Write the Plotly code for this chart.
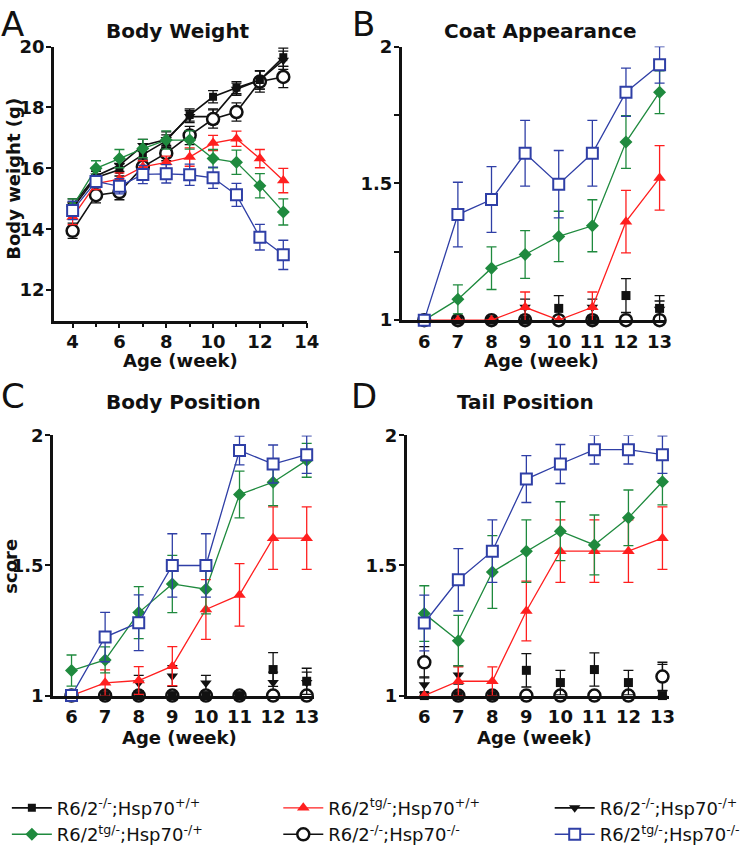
import plotly.graph_objects as go

W, H = 745, 853

# ---------------- data ----------------
weeks_a = [4, 5, 6, 7, 8, 9, 10, 11, 12, 13]
weeks_s = [6, 7, 8, 9, 10, 11, 12, 13]

series_names = [
    "R6/2<sup>-/-</sup>;Hsp70<sup>+/+</sup>",
    "R6/2<sup>tg/-</sup>;Hsp70<sup>+/+</sup>",
    "R6/2<sup>-/-</sup>;Hsp70<sup>-/+</sup>",
    "R6/2<sup>tg/-</sup>;Hsp70<sup>-/+</sup>",
    "R6/2<sup>-/-</sup>;Hsp70<sup>-/-</sup>",
    "R6/2<sup>tg/-</sup>;Hsp70<sup>-/-</sup>",
]

# Panel A: body weight (g)
bw_s1 = [14.7, 15.7, 15.95, 16.45, 16.9, 17.75, 18.35, 18.65, 18.9, 19.65]
bw_s1_err = [0.2, 0.2, 0.2, 0.2, 0.2, 0.2, 0.2, 0.2, 0.3, 0.3]
bw_s2 = [14.4, 15.5, 15.65, 16.05, 16.2, 16.37, 16.83, 16.97, 16.32, 15.6]
bw_s2_err = [0.25, 0.2, 0.2, 0.2, 0.2, 0.3, 0.25, 0.25, 0.3, 0.4]
bw_s3 = [14.8, 15.75, 16.1, 16.75, 16.95, 17.7, 17.7, 18.6, 18.9, 19.55]
bw_s3_err = [0.2, 0.2, 0.2, 0.2, 0.25, 0.2, 0.25, 0.2, 0.3, 0.3]
bw_s4 = [14.75, 16.0, 16.32, 16.65, 16.93, 16.93, 16.32, 16.2, 15.43, 14.57]
bw_s4_err = [0.25, 0.25, 0.3, 0.3, 0.3, 0.3, 0.3, 0.4, 0.4, 0.43]
bw_s5 = [13.95, 15.12, 15.22, 16.05, 16.5, 17.08, 17.62, 17.85, 18.85, 19.0]
bw_s5_err = [0.25, 0.25, 0.25, 0.25, 0.25, 0.3, 0.3, 0.3, 0.35, 0.35]
bw_s6 = [14.62, 15.57, 15.41, 15.8, 15.82, 15.79, 15.69, 15.13, 13.74, 13.16]
bw_s6_err = [0.3, 0.2, 0.25, 0.3, 0.3, 0.35, 0.35, 0.38, 0.42, 0.48]

# Panel B: coat appearance score
ca_s1 = [1, 1, 1, 1, 1.043, 1, 1.09, 1.043]
ca_s1_err = [0, 0, 0, 0, 0.047, 0, 0.062, 0.047]
ca_s2 = [1, 1, 1, 1.047, 1, 1.047, 1.36, 1.52]
ca_s2_err = [0, 0, 0, 0.056, 0, 0.056, 0.114, 0.118]
ca_s3 = [1, 1, 1, 1.047, 1, 1.047, 1, 1.04]
ca_s3_err = [0, 0, 0, 0.03, 0, 0.03, 0, 0.03]
ca_s4 = [1, 1.076, 1.19, 1.24, 1.306, 1.345, 1.651, 1.833]
ca_s4_err = [0, 0.053, 0.078, 0.087, 0.092, 0.095, 0.096, 0.078]
ca_s5 = [1, 1, 1, 1, 1, 1, 1, 1]
ca_s5_err = [0, 0, 0, 0, 0, 0, 0, 0]
ca_s6 = [1, 1.386, 1.441, 1.61, 1.497, 1.61, 1.833, 1.933]
ca_s6_err = [0, 0.118, 0.12, 0.12, 0.123, 0.12, 0.088, 0.067]

# Panel C: body position score
bp_s1 = [1, 1, 1, 1, 1, 1, 1.1, 1.055]
bp_s1_err = [0, 0, 0, 0, 0, 0, 0.065, 0.05]
bp_s2 = [1, 1.049, 1.058, 1.113, 1.331, 1.387, 1.605, 1.605]
bp_s2_err = [0, 0.05, 0.053, 0.075, 0.115, 0.12, 0.12, 0.12]
bp_s3 = [1, 1, 1.048, 1.075, 1.048, 1, 1.05, 1.05]
bp_s3_err = [0, 0, 0.03, 0.04, 0.03, 0, 0.04, 0.04]
bp_s4 = [1.096, 1.137, 1.319, 1.429, 1.409, 1.773, 1.82, 1.904]
bp_s4_err = [0.06, 0.05, 0.1, 0.11, 0.095, 0.09, 0.09, 0.065]
bp_s5 = [1, 1, 1, 1, 1, 1, 1, 1]
bp_s5_err = [0, 0, 0, 0, 0, 0, 0, 0]
bp_s6 = [1, 1.225, 1.28, 1.5, 1.5, 1.942, 1.89, 1.926]
bp_s6_err = [0, 0.095, 0.107, 0.122, 0.122, 0.055, 0.073, 0.072]

# Panel D: tail position score
tp_s1 = [1, 1, 1, 1.097, 1.05, 1.1, 1.05, 1.0]
tp_s1_err = [0, 0, 0, 0.064, 0.047, 0.064, 0.047, 0]
tp_s2 = [1, 1.055, 1.055, 1.325, 1.555, 1.555, 1.555, 1.605]
tp_s2_err = [0, 0.055, 0.055, 0.115, 0.12, 0.12, 0.12, 0.12]
tp_s3 = [1.042, 1.079, 1, 1, 1, 1, 1, 1.07]
tp_s3_err = [0.03, 0.035, 0, 0, 0, 0, 0, 0.05]
tp_s4 = [1.315, 1.211, 1.475, 1.555, 1.632, 1.579, 1.683, 1.822]
tp_s4_err = [0.107, 0.097, 0.14, 0.12, 0.113, 0.115, 0.107, 0.089]
tp_s5 = [1.128, 1, 1, 1, 1, 1, 1, 1.073]
tp_s5_err = [0.06, 0, 0, 0, 0, 0, 0, 0.055]
tp_s6 = [1.279, 1.445, 1.555, 1.832, 1.89, 1.945, 1.945, 1.926]
tp_s6_err = [0.107, 0.12, 0.12, 0.09, 0.075, 0.055, 0.055, 0.072]

# ---------------- styles ----------------
BLACK = "#111111"
RED = "#ff1f1f"
GREEN = "#1f8a3e"
BLUE = "#2f3fa6"
styles = [
    dict(color=BLACK, symbol="square", size=8, fill=BLACK, lw=0, linew=1.6),
    dict(color=RED, symbol="triangle-up", size=11, fill=RED, lw=0, linew=1.3),
    dict(color=BLACK, symbol="triangle-down", size=10, fill=BLACK, lw=0, linew=1.6),
    dict(color=GREEN, symbol="diamond", size=10, fill=GREEN, lw=0, linew=1.3),
    dict(color=BLACK, symbol="circle", size=12, fill="white", lw=2.5, linew=1.6),
    dict(color=BLUE, symbol="square", size=11, fill="white", lw=2, linew=1.3),
]
black_series = {0, 2, 4}
legend_of = ["legend", "legend2", "legend3", "legend", "legend2", "legend3"]
legend_rank = [1, 1, 1, 2, 2, 2]
draw_order = [2, 4, 0, 1, 3, 5]

panels = [
    ("x", "y", weeks_a, [bw_s1, bw_s2, bw_s3, bw_s4, bw_s5, bw_s6],
     [bw_s1_err, bw_s2_err, bw_s3_err, bw_s4_err, bw_s5_err, bw_s6_err]),
    ("x2", "y2", weeks_s, [ca_s1, ca_s2, ca_s3, ca_s4, ca_s5, ca_s6],
     [ca_s1_err, ca_s2_err, ca_s3_err, ca_s4_err, ca_s5_err, ca_s6_err]),
    ("x3", "y3", weeks_s, [bp_s1, bp_s2, bp_s3, bp_s4, bp_s5, bp_s6],
     [bp_s1_err, bp_s2_err, bp_s3_err, bp_s4_err, bp_s5_err, bp_s6_err]),
    ("x4", "y4", weeks_s, [tp_s1, tp_s2, tp_s3, tp_s4, tp_s5, tp_s6],
     [tp_s1_err, tp_s2_err, tp_s3_err, tp_s4_err, tp_s5_err, tp_s6_err]),
]

fig = go.Figure()
for pi, (xa, ya, xs, ys, errs) in enumerate(panels):
    for si in draw_order:
        st = styles[si]
        mode = "markers" if (pi > 0 and si in black_series) else "lines+markers"
        size = st["size"]
        if pi > 0 and si == 0:
            size = 9
        fig.add_trace(go.Scatter(
            x=xs, y=ys[si], xaxis=xa, yaxis=ya,
            mode=mode,
            name=series_names[si],
            legendgroup=f"s{si}",
            legend=legend_of[si],
            legendrank=legend_rank[si],
            showlegend=(pi == 0),
            line=dict(color=st["color"], width=st["linew"]),
            marker=dict(symbol=st["symbol"], size=size, color=st["fill"],
                        line=dict(color=st["color"], width=st["lw"])),
            error_y=dict(type="data", array=errs[si], color=st["color"],
                         thickness=1.3, width=5),
            cliponaxis=False,
            hoverinfo="skip",
        ))


def px_x(p):
    return p / W


def px_y(p):
    return 1 - p / H


TICKFONT = dict(family="DejaVu Sans", size=18, color="#111", weight="bold")


def xaxis(dom, rng, tickvals, minor=False):
    d = dict(domain=[px_x(dom[0]), px_x(dom[1])], range=rng, showgrid=False, zeroline=False,
             showline=True, linewidth=2.5, linecolor="#111", ticks="outside", ticklen=5,
             tickwidth=2, tickcolor="#111", tickvals=tickvals, tickfont=TICKFONT,
             ticklabelstandoff=-2)
    if minor:
        d["minor"] = dict(tickvals=[5, 7, 9, 11, 13], ticks="outside", ticklen=4,
                          tickwidth=2, tickcolor="#111")
    return d


def yaxis(dom, rng, tickvals, ticktext, anchor, minorvals=None):
    d = dict(domain=[px_y(dom[1]), px_y(dom[0])], range=rng, showgrid=False, zeroline=False,
             showline=True, linewidth=2.5, linecolor="#111", ticks="outside", ticklen=5,
             tickwidth=2, tickcolor="#111", tickvals=tickvals, ticktext=ticktext,
             tickfont=TICKFONT, anchor=anchor, ticklabelstandoff=-2)
    if minorvals:
        d["minor"] = dict(tickvals=minorvals, ticks="outside", ticklen=5,
                          tickwidth=2, tickcolor="#111")
    return d


fig.update_layout(
    width=W, height=H, margin=dict(l=0, r=0, t=0, b=0),
    paper_bgcolor="white", plot_bgcolor="white",
    xaxis=dict(xaxis((55, 313), [3.2, 14], [4, 6, 8, 10, 12, 14], minor=True), anchor="y"),
    yaxis=yaxis((37, 322.5), [11, 20], [12, 14, 16, 18, 20], ["12", "14", "16", "18", "20"], "x"),
    xaxis2=dict(xaxis((410, 680), [5.33, 13.2], weeks_s), anchor="y2", ticks="", ticklabelstandoff=3),
    yaxis2=yaxis((37, 322), [1, 2], [1, 1.5, 2], ["1", "1.5", "2"], "x2", minorvals=[1.25, 1.75]),
    xaxis3=dict(xaxis((54, 320), [5.446, 13.204], weeks_s), anchor="y3", ticks="", ticklabelstandoff=3),
    yaxis3=yaxis((442, 713), [1, 2], [1, 1.5, 2], ["1", "1.5", "2"], "x3"),
    xaxis4=dict(xaxis((415, 683), [5.481, 13.2], weeks_s), anchor="y4", ticks="", ticklabelstandoff=3),
    yaxis4=yaxis((442, 713), [1, 2], [1, 1.5, 2], ["1", "1.5", "2"], "x4"),
    showlegend=True,
)

leg_common = dict(orientation="v", xanchor="left", yanchor="top", bgcolor="rgba(0,0,0,0)",
                  font=dict(family="DejaVu Sans", size=18, color="#111"),
                  tracegroupgap=0, itemwidth=40, traceorder="normal")
fig.update_layout(
    legend=dict(leg_common, x=px_x(7), y=px_y(811)),
    legend2=dict(leg_common, x=px_x(284), y=px_y(811)),
    legend3=dict(leg_common, x=px_x(561), y=px_y(811)),
)

ann = []


def add_text(text, x, y, size, bold=True, angle=0):
    ann.append(dict(text=text, x=px_x(x), y=px_y(y), xref="paper", yref="paper",
                    showarrow=False, xanchor="center", yanchor="middle", textangle=angle,
                    font=dict(family="DejaVu Sans", size=size, color="#111",
                              weight="bold" if bold else "normal")))


add_text("Body Weight", 182, 21, 20)
add_text("Coat Appearance", 552, 21, 20)
add_text("Body Position", 187, 407, 20)
add_text("Tail Position", 536, 407, 20)
add_text("Age (week)", 184, 364, 18)
add_text("Age (week)", 553, 364, 18)
add_text("Age (week)", 183, 757, 18)
add_text("Age (week)", 545, 757, 18)
add_text("Body weight (g)", 13, 175, 18, angle=-90)
add_text("score", 11, 578, 18, angle=-90)
add_text("A", 13, 14, 34, bold=False)
add_text("B", 371, 14, 34, bold=False)
add_text("C", 13, 401, 34, bold=False)
add_text("D", 371, 401, 34, bold=False)
fig.update_layout(annotations=ann)

fig.write_html("out.html",
               config={"displayModeBar": False},
               post_script="document.body.style.margin='0';document.body.style.overflow='hidden';")
